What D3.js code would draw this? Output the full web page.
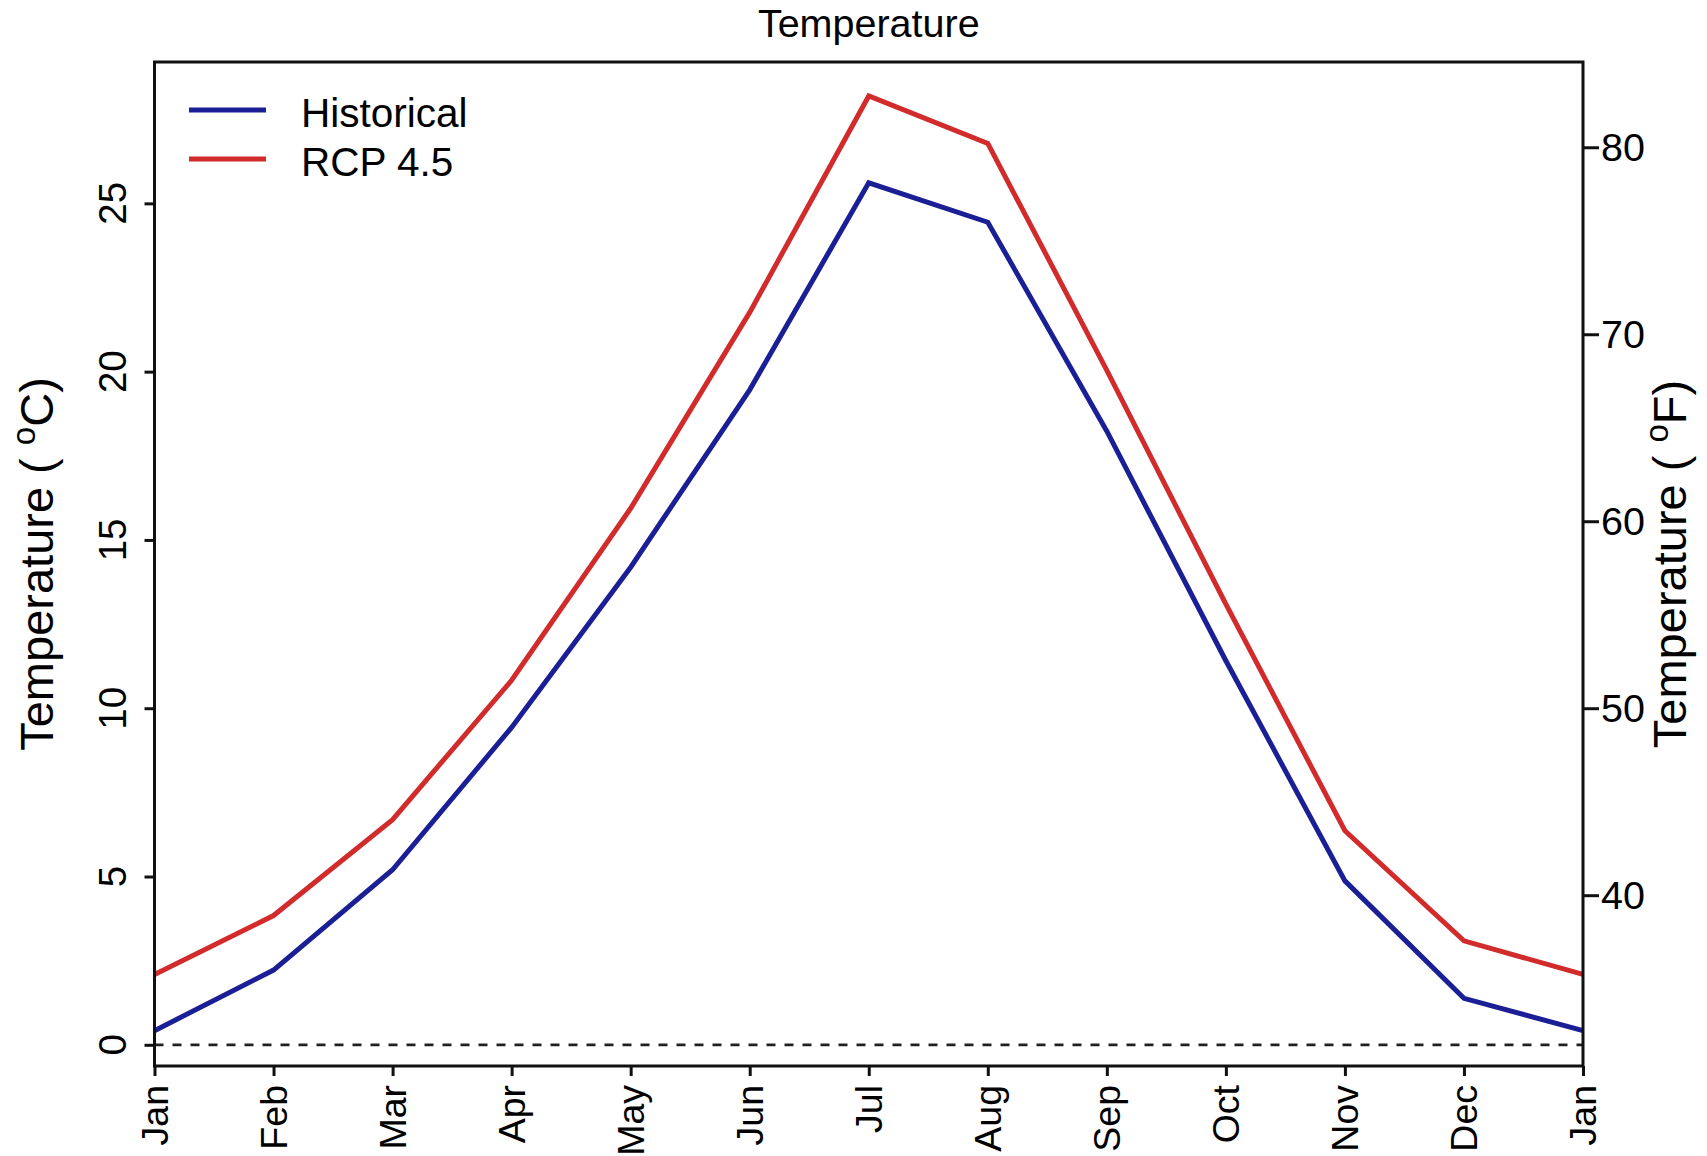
<!DOCTYPE html>
<html>
<head>
<meta charset="utf-8">
<script src="https://cdn.jsdelivr.net/npm/d3@7"></script>
<style>
  html, body { margin: 0; padding: 0; background: #fff; }
  svg text { font-family: "Liberation Sans", Arial, Helvetica, sans-serif; fill: #000; }
</style>
</head>
<body>
<svg id="chart" width="1707" height="1156"></svg>
<script>
// ---- data ----
const months = ["Jan","Feb","Mar","Apr","May","Jun","Jul","Aug","Sep","Oct","Nov","Dec","Jan"];
const historical = [0.42, 2.22, 5.20, 9.43, 14.19, 19.46, 25.61, 24.44, 18.23, 11.41, 4.87, 1.38, 0.42];
const rcp45      = [2.09, 3.84, 6.69, 10.83, 15.94, 21.76, 28.19, 26.78, 20.04, 13.09, 6.36, 3.09, 2.09];
const seriesNames = ["Historical", "RCP 4.5"];
const celsiusTicks = [0, 5, 10, 15, 20, 25];
const fahrenheitTicks = [40, 50, 60, 70, 80];
const yLimitsC = [-0.63, 29.2];

// ---- layout ----
const svg = d3.select("#chart");
const L = 154.5, R = 1583, T = 62, B = 1066;
const colors = ["#1a1f96", "#d22b2b"];

const x = d3.scaleLinear().domain([0, months.length - 1]).range([L, R]);
const y = d3.scaleLinear().domain(yLimitsC).range([B, T]);
const yF = d3.scaleLinear().domain(yLimitsC.map(c => c * 9 / 5 + 32)).range([B, T]);

// zero dashed line
svg.append("line")
  .attr("x1", L).attr("x2", R).attr("y1", y(0)).attr("y2", y(0))
  .attr("stroke", "#222").attr("stroke-width", 2.8).attr("stroke-dasharray", "9,9");

// lines
const line = d3.line().x((d, i) => x(i)).y(d => y(d));
[historical, rcp45].forEach((s, k) => {
  svg.append("path").datum(s)
    .attr("d", line).attr("fill", "none")
    .attr("stroke", colors[k]).attr("stroke-width", 5)
    .attr("stroke-linejoin", "miter").attr("stroke-linecap", "butt");
});

// box
svg.append("rect").attr("x", L).attr("y", T).attr("width", R - L).attr("height", B - T)
  .attr("fill", "none").attr("stroke", "#111").attr("stroke-width", 3);

// bottom axis
const xAxis = svg.append("g").attr("transform", `translate(0,${B})`)
  .call(d3.axisBottom(x).tickValues(d3.range(months.length)).tickSize(10).tickFormat(""));
xAxis.select(".domain").remove();
xAxis.selectAll(".tick line").attr("stroke", "#111").attr("stroke-width", 3);
months.forEach((m, i) => {
  svg.append("text")
    .attr("transform", `translate(${x(i) + 13},1085) rotate(-90)`)
    .attr("text-anchor", "end").attr("font-size", 37.5).text(m);
});

// left axis
const yAxis = svg.append("g").attr("transform", `translate(${L},0)`)
  .call(d3.axisLeft(y).tickValues(celsiusTicks).tickSize(10).tickFormat(""));
yAxis.select(".domain").remove();
yAxis.selectAll(".tick line").attr("stroke", "#111").attr("stroke-width", 3);
celsiusTicks.forEach(v => {
  svg.append("text")
    .attr("transform", `translate(126,${y(v)}) rotate(-90)`)
    .attr("text-anchor", "middle").attr("font-size", 38.5).text(v);
});

// right axis
const yAxisR = svg.append("g").attr("transform", `translate(${R},0)`)
  .call(d3.axisRight(yF).tickValues(fahrenheitTicks).tickSize(16).tickFormat(""));
yAxisR.select(".domain").remove();
yAxisR.selectAll(".tick line").attr("stroke", "#111").attr("stroke-width", 3);
fahrenheitTicks.forEach(v => {
  svg.append("text")
    .attr("x", 1601).attr("y", yF(v)).attr("dy", "0.36em")
    .attr("font-size", 39.5).text(v);
});

// title
svg.append("text").attr("x", (L + R) / 2).attr("y", 37)
  .attr("text-anchor", "middle").attr("font-size", 39.5).text("Temperature");

// axis titles
function axisTitle(xpos, unit) {
  const t = svg.append("text")
    .attr("transform", `translate(${xpos},${(T + B) / 2}) rotate(-90)`)
    .attr("text-anchor", "middle").attr("font-size", 47);
  t.append("tspan").text("Temperature ( ");
  t.append("tspan").attr("font-size", 33).attr("dy", -18).text("o");
  t.append("tspan").attr("dy", 18).text(unit + ")");
}
axisTitle(53, "C");
axisTitle(1686, "F");

// legend
seriesNames.forEach((name, k) => {
  const ly = 110 + k * 49;
  svg.append("line").attr("x1", 189).attr("x2", 266).attr("y1", ly).attr("y2", ly)
    .attr("stroke", colors[k]).attr("stroke-width", 5);
  svg.append("text").attr("x", 301).attr("y", ly + 2).attr("dy", "0.36em")
    .attr("font-size", 40.5).text(name);
});
</script>
</body>
</html>
